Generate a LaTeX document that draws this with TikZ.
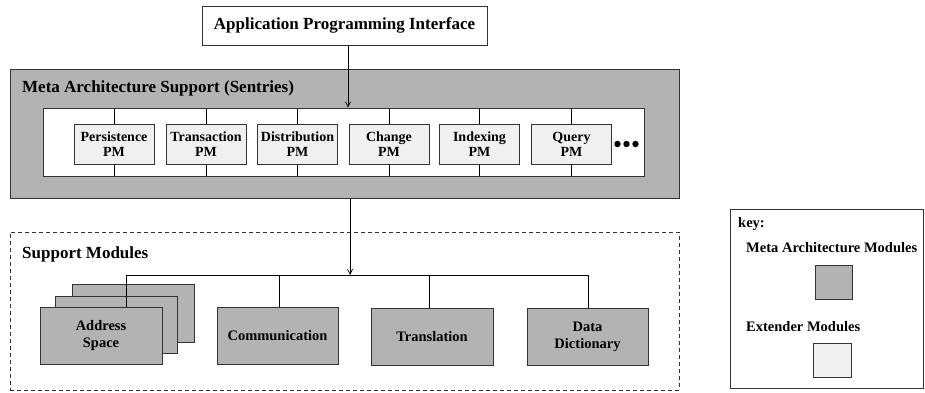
\documentclass[tikz,border=0pt]{standalone}
\usepackage{fontspec}
\setmainfont{Liberation Serif}
\usetikzlibrary{arrows.meta}
\definecolor{modgray}{HTML}{B3B3B3}
\definecolor{extlight}{HTML}{F0F0F0}
\definecolor{edgegray}{HTML}{333333}
\begin{document}
\begin{tikzpicture}[x=1pt,y=-1pt,
  every node/.style={font=\bfseries, inner sep=0pt},
  box/.style={draw=edgegray, line width=0.9pt, rectangle, align=center},
  metabox/.style={box, fill=modgray},
  extbox/.style={box, fill=extlight},
  pmbox/.style={extbox, minimum width=80pt, minimum height=40pt, font=\bfseries\fontsize{14}{15}\selectfont},
  supbox/.style={metabox, minimum width=122pt, minimum height=57pt, font=\bfseries\fontsize{14.5}{17}\selectfont},
  wire/.style={line width=0.7pt, draw=black},
  arr/.style={wire, -{Straight Barb[length=5pt,width=5pt]}},
  title/.style={anchor=west, font=\bfseries\fontsize{17}{19}\selectfont},
  keytext/.style={anchor=west, font=\bfseries\fontsize{14.5}{16}\selectfont}
]
\useasboundingbox (0,0) rectangle (925,392);

% API
\node[box, fill=white, minimum width=285pt, minimum height=39pt, font=\bfseries\fontsize{17}{19}\selectfont] (api) at (344.5,25.5) {Application Programming Interface};

% Meta architecture support
\node[metabox, minimum width=669pt, minimum height=129pt] (mas) at (344.5,133.5) {};
\node[title] (mastitle) at (22,88) {Meta Architecture Support (Sentries)};
\node[box, fill=white, minimum width=601pt, minimum height=68pt] (inner) at (343.5,142) {};

\node[pmbox] (p1) at (114,144) {Persistence\\PM};
\node[pmbox] (p2) at (206,144) {Transaction\\PM};
\node[pmbox] (p3) at (297.5,144) {Distribution\\PM};
\node[pmbox] (p4) at (389,144) {Change\\PM};
\node[pmbox] (p5) at (479.5,144) {Indexing\\PM};
\node[pmbox] (p6) at (571.5,144) {Query\\PM};
\foreach \p in {p1,p2,p3,p4,p5,p6}{
  \draw[wire] (\p.north) -- (\p.north |- inner.north);
  \draw[wire] (\p.south) -- (\p.south |- inner.south);
}
\fill (617.5,144) circle (3.2pt) (626.5,144) circle (3.2pt) (635.5,144) circle (3.2pt);

\draw[arr] ([xshift=3.5pt]api.south) -- ([xshift=3.5pt]api.south |- inner.north);

% Support modules
\node[draw=edgegray, line width=0.8pt, dash pattern=on 4pt off 3pt, minimum width=669pt, minimum height=158pt] (sup) at (344.5,311) {};
\node[title] (suptitle) at (22,254) {Support Modules};

\node[metabox, minimum width=122pt, minimum height=58pt] (addr3) at (133,313) {};
\node[metabox, minimum width=122pt, minimum height=57pt] (addr2) at (116,324.5) {};
\node[supbox] (addr) at (101,335.5) {Address\\Space};
\node[supbox, minimum width=121pt] (comm) at (277.5,335.5) {Communication};
\node[supbox] (trans) at (432,336.5) {Translation};
\node[supbox, minimum width=121pt] (dd) at (587.5,336.5) {Data\\Dictionary};

\coordinate (bus) at (350,275);
\draw[arr] ([xshift=5.5pt]mas.south) -- ([xshift=5.5pt]mas.south |- bus);
\draw[wire] ([xshift=25pt]addr.north) -- ([xshift=25pt]addr.north |- bus) -- ([xshift=0.5pt]dd.north |- bus) -- ([xshift=0.5pt]dd.north);
\draw[wire] ([xshift=1.5pt]comm.north) -- ([xshift=1.5pt]comm.north |- bus);
\draw[wire] ([xshift=-3pt]trans.north) -- ([xshift=-3pt]trans.north |- bus);

% Key
\node[draw=edgegray, line width=0.9pt, minimum width=193pt, minimum height=179pt] (key) at (826.5,298.5) {};
\node[keytext] (keylabel) at (738,224) {key:};
\node[keytext] (keymeta) at (746,248) {Meta Architecture Modules};
\node[metabox, minimum width=37pt, minimum height=34pt] (keysq1) at (833.5,282) {};
\node[keytext] (keyext) at (746,327) {Extender Modules};
\node[extbox, minimum width=38pt, minimum height=34pt] (keysq2) at (832,360) {};
\end{tikzpicture}
\end{document}
